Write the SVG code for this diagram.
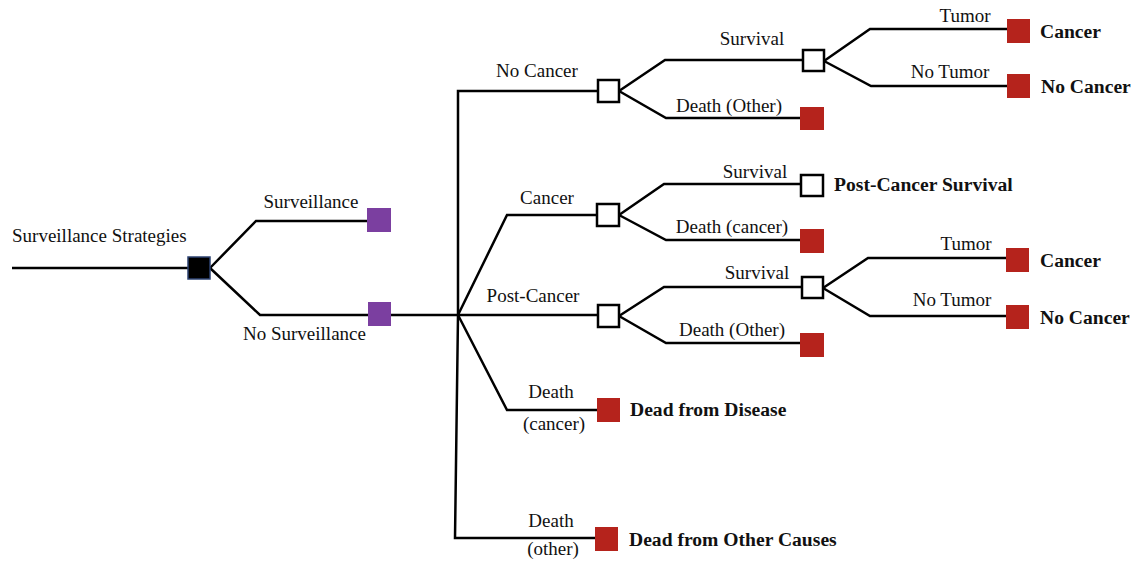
<svg xmlns="http://www.w3.org/2000/svg" width="1143" height="567" viewBox="0 0 1143 567">
<style>
.ln{fill:none;stroke:#000;stroke-width:2.5;stroke-linejoin:miter}
.ch{fill:#fff;stroke:#000;stroke-width:2.5}
.term{fill:#b5231c}
.strat{fill:#7b3fa0}
.root{fill:#000;stroke:#2c4270;stroke-width:1.5}
.lbl{font-family:"Liberation Serif",serif;font-size:19px;fill:#111}
.bold{font-family:"Liberation Serif",serif;font-size:19.6px;font-weight:bold;fill:#111}
.m{text-anchor:middle}
</style>
<rect width="1143" height="567" fill="#fff"/>
<g id="connectors">
<path class="ln" d="M12,268 H188"/>
<path class="ln" d="M210,268 L256,221 H368"/>
<path class="ln" d="M210,268 L260,315 H369"/>
<path class="ln" d="M391,315 H458"/>
<path class="ln" d="M598,91 H458 V315 L455,538 H596"/>
<path class="ln" d="M458,315 L507,215 H597"/>
<path class="ln" d="M458,315 H598"/>
<path class="ln" d="M458,315 L507,410 H598"/>
<path class="ln" d="M619,91 L665,60 H803"/>
<path class="ln" d="M619,91 L666,118 H800"/>
<path class="ln" d="M824,61 L870,29 H1007"/>
<path class="ln" d="M824,61 L871,86 H1007"/>
<path class="ln" d="M619,215 L664,184 H801"/>
<path class="ln" d="M619,215 L666,240 H800"/>
<path class="ln" d="M619,316 L664,287 H802"/>
<path class="ln" d="M619,316 L666,343 H800"/>
<path class="ln" d="M823,288 L868,258 H1006"/>
<path class="ln" d="M823,288 L870,316 H1006"/>
</g>
<g id="root"><rect class="root" x="188" y="257" width="22" height="22"/><text class="lbl" x="12" y="242">Surveillance Strategies</text></g>
<g id="surveillance"><rect class="strat" x="367" y="208" width="24" height="24"/><text class="lbl m" x="311" y="208">Surveillance</text></g>
<g id="no-surveillance"><rect class="strat" x="368" y="302" width="23" height="24"/><text class="lbl" x="243" y="340">No Surveillance</text></g>
<g id="no-cancer"><rect class="ch" x="598" y="80" width="21" height="22"/><text class="lbl m" x="537" y="77">No Cancer</text></g>
<g id="nc-survival"><rect class="ch" x="803" y="50" width="21" height="21"/><text class="lbl m" x="752" y="45">Survival</text></g>
<g id="nc-tumor"><rect class="term" x="1007" y="19" width="23" height="24"/><text class="lbl m" x="965" y="22">Tumor</text><text class="bold" x="1040" y="38">Cancer</text></g>
<g id="nc-notumor"><rect class="term" x="1007" y="74" width="23" height="24"/><text class="lbl m" x="950" y="78">No Tumor</text><text class="bold" x="1041" y="93">No Cancer</text></g>
<g id="nc-death"><rect class="term" x="800" y="107" width="24" height="23"/><text class="lbl m" x="729" y="112">Death (Other)</text></g>
<g id="cancer"><rect class="ch" x="597" y="204" width="22" height="22"/><text class="lbl m" x="547" y="204">Cancer</text></g>
<g id="c-survival"><rect class="ch" x="801" y="175" width="22" height="21"/><text class="lbl m" x="755" y="178">Survival</text><text class="bold" x="834" y="191">Post-Cancer Survival</text></g>
<g id="c-death"><rect class="term" x="800" y="229" width="24" height="24"/><text class="lbl m" x="732" y="233">Death (cancer)</text></g>
<g id="post-cancer"><rect class="ch" x="598" y="305" width="21" height="22"/><text class="lbl m" x="533" y="302">Post-Cancer</text></g>
<g id="pc-survival"><rect class="ch" x="802" y="277" width="21" height="21"/><text class="lbl m" x="757" y="279">Survival</text></g>
<g id="pc-tumor"><rect class="term" x="1006" y="248" width="23" height="24"/><text class="lbl m" x="966" y="250">Tumor</text><text class="bold" x="1040" y="267">Cancer</text></g>
<g id="pc-notumor"><rect class="term" x="1006" y="305" width="23" height="24"/><text class="lbl m" x="952" y="306">No Tumor</text><text class="bold" x="1040" y="324">No Cancer</text></g>
<g id="pc-death"><rect class="term" x="800" y="333" width="24" height="24"/><text class="lbl m" x="732" y="336">Death (Other)</text></g>
<g id="death-cancer"><rect class="term" x="597" y="398" width="23" height="24"/><text class="lbl m" x="551" y="398">Death</text><text class="lbl m" x="554" y="430">(cancer)</text><text class="bold" x="630" y="416">Dead from Disease</text></g>
<g id="death-other"><rect class="term" x="595" y="527" width="23" height="24"/><text class="lbl m" x="551" y="527">Death</text><text class="lbl m" x="553" y="555">(other)</text><text class="bold" x="629" y="546">Dead from Other Causes</text></g>
</svg>
